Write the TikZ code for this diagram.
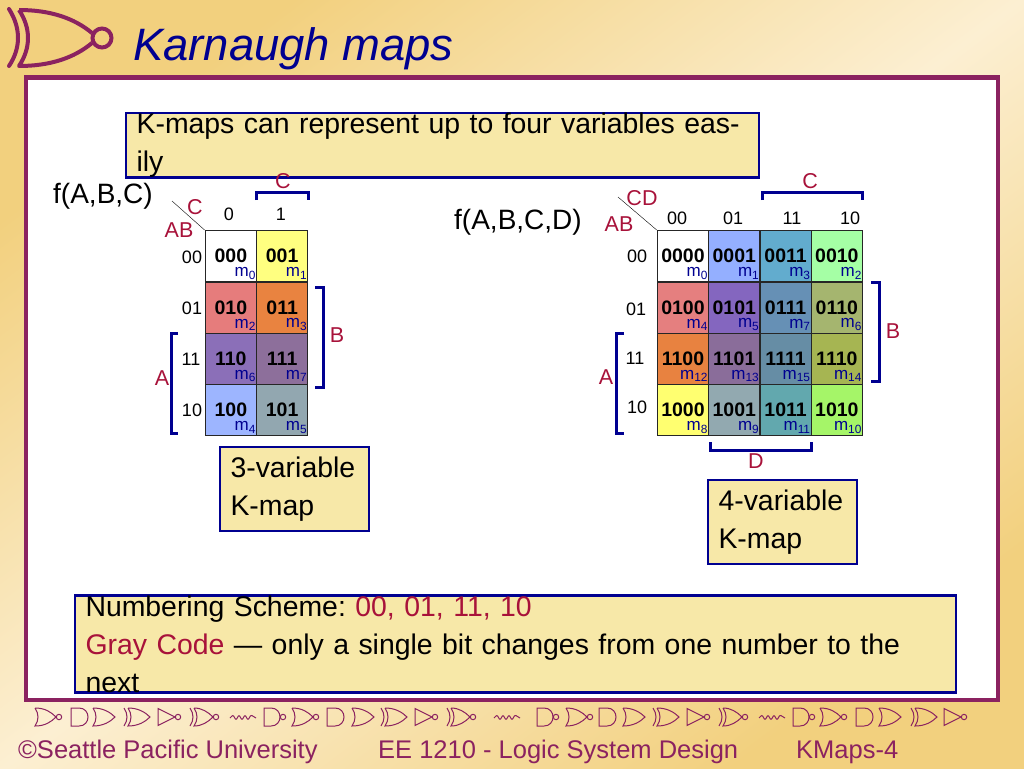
\documentclass[tikz,border=0pt]{standalone}
\usepackage{fontspec}
\setmainfont{Liberation Sans}
\definecolor{frame}{HTML}{8B2260}
\definecolor{navy}{HTML}{000090}
\definecolor{wine}{HTML}{A8123A}
\definecolor{note}{HTML}{F7E8A8}
\definecolor{tan}{HTML}{F2D07E}
\definecolor{pale}{HTML}{FCEFD2}
\newcommand{\fs}[1]{\fontsize{#1}{#1}\selectfont}
\tikzset{
    kcell/.style={draw=black!85,line width=1.2pt,minimum size=51.3pt,inner sep=0pt,anchor=north west,font=\fs{19.5}\bfseries},
    mterm/.style={inner sep=0pt,anchor=south east,text=navy,font=\fs{17}},
    varname/.style={inner sep=0pt,text=wine,font=\fs{21.5}},
    bitlabel/.style={inner sep=0pt,font=\fs{18}},
    brace/.style={draw=navy,line width=3pt},
    notebox/.style={draw=navy,line width=2.2pt,fill=note,inner xsep=10.5pt,inner ysep=0pt,align=left,font=\fontsize{28.4}{38}\selectfont\frenchspacing},
    footer/.style={inner sep=0pt,anchor=base west,text=frame,font=\fs{25.5}},
    gatepath/.style={draw=frame,line width=1pt},
    pics/nor/.style={code={\draw[gatepath] (0,-9) .. controls (4,-3) and (4,3) .. (0,9) .. controls (10,9) and (16,5) .. (21,0) .. controls (16,-5) and (10,-9) .. (0,-9);
        \draw[gatepath] (24,0) circle (2.7);}},
    pics/and/.style={code={\draw[gatepath] (0,-9) -- (8,-9) .. controls (20,-9) and (20,9) .. (8,9) -- (0,9) -- cycle;}},
    pics/or/.style={code={\draw[gatepath] (0,-9) .. controls (4,-3) and (4,3) .. (0,9) .. controls (10,9) and (17,5) .. (22,0) .. controls (17,-5) and (10,-9) .. (0,-9);}},
    pics/xor/.style={code={\draw[gatepath] (0,-9) .. controls (4,-3) and (4,3) .. (0,9);
        \draw[gatepath] (4,-9) .. controls (8,-3) and (8,3) .. (4,9) .. controls (14,9) and (21,5) .. (26,0) .. controls (21,-5) and (14,-9) .. (4,-9);}},
    pics/not/.style={code={\draw[gatepath] (0,-8.5) -- (17,0) -- (0,8.5) -- cycle;
        \draw[gatepath] (20,0) circle (2.7);}},
    pics/xnor/.style={code={\draw[gatepath] (0,-9) .. controls (4,-3) and (4,3) .. (0,9);
        \draw[gatepath] (4,-9) .. controls (8,-3) and (8,3) .. (4,9) .. controls (12,9) and (18,5) .. (23,0) .. controls (18,-5) and (12,-9) .. (4,-9);
        \draw[gatepath] (26,0) circle (2.7);}},
    pics/nand/.style={code={\draw[gatepath] (0,-9) -- (7,-9) .. controls (19,-9) and (19,9) .. (7,9) -- (0,9) -- cycle;
        \draw[gatepath] (19,0) circle (2.7);}},
    pics/res/.style={code={\draw[gatepath,rounded corners=1pt] (0,1) -- (3,-2) -- (6,3) -- (9,-2) -- (12,3) -- (15,-2) -- (18,3) -- (21,-2) -- (26,1);}},
}
\begin{document}
\begin{tikzpicture}[x=1pt,y=-1pt]
    \useasboundingbox (0,0) rectangle (1024,768);
    \shade[top color=tan,bottom color=tan,middle color=pale,shading angle=37] (0,0) rectangle (1024,768);
    \draw[frame,fill=white,line width=4.5pt] (26,77.5) rectangle (998,700);

    % logo
    \draw[frame,line width=4pt,line cap=round] (9,9) .. controls (21,28) and (21,48) .. (9,66);
    \draw[frame,line width=4pt,line join=round] (19,10) .. controls (31,28) and (31,48) .. (19,66) .. controls (50,66) and (74,58) .. (92,43) (92,33) .. controls (74,18) and (50,10) .. (19,10);
    \draw[frame,line width=4pt] (102,38) circle (9.5);
    \node[inner sep=0pt,anchor=base west,text=navy,font=\fs{45.4}\itshape] (title) at (133,60) {Karnaugh maps};

    \node[notebox,anchor=north west,minimum width=633pt,minimum height=47pt,text width=612pt] (intro) at (125,112) {K-maps can represent up to four variables easily};

    % 3-variable map
    \foreach \cid/\px/\py/\col/\bits/\mnum in {
        a0/204.6/230/FFFFFF/000/0, a1/255.9/230/FFFF80/001/1,
        a2/204.6/281.3/E67C7C/010/2, a3/255.9/281.3/E98340/011/3,
        a6/204.6/332.6/8B6FB8/110/6, a7/255.9/332.6/8D6F9B/111/7,
        a4/204.6/383.9/9DB5FF/100/4, a5/255.9/383.9/92A7B0/101/5} {
        \definecolor{cellfill}{HTML}{\col}
        \node[kcell,fill=cellfill] (\cid) at (\px,\py) {\bits};
        \node[mterm] (m\cid) at ([shift={(-1pt,3pt)}]\cid.south east) {m\textsubscript{\mnum}};
    }
    \node[inner sep=0pt,anchor=base west,font=\fs{28}] (fthree) at (53,203) {f(A,B,C)};
    \draw[black] (172,201) -- (a0.north west);
    \node[varname] (cthree) at (195,207) {C};
    \node[varname] (abthree) at (179,230) {AB};
    \foreach \nm/\px/\py/\txt in {t0/229/214/0,t1/281/214/1,r0/192/257/00,r1/192/308/01,r2/191/359/11,r3/192/410/10}
        \node[bitlabel] (\nm) at (\px,\py) {\txt};
    \draw[brace] (256,200) |- (308,192) -- (308,200);
    \node[varname] (ctop) at (283,181) {C};
    \draw[brace] (315,287) -| (323,387) -- (315,387);
    \node[varname] (bside) at (337,335) {B};
    \draw[brace] (178,333) -| (171,433) -- (178,433);
    \node[varname] (aside) at (162,378) {A};
    \node[notebox,minimum width=149pt,minimum height=84pt,text width=128pt] (kthree) at (294.5,489) {3-variable\\K-map};

    % 4-variable map
    \foreach \cid/\px/\py/\col/\bits/\mnum in {
        b0/656.7/230/FFFFFF/0000/0, b1/708/230/94AFFF/0001/1, b3/759.3/230/62ACCE/0011/3, b2/810.6/230/A5FFA5/0010/2,
        b4/656.7/281.3/E57F7F/0100/4, b5/708/281.3/8466BF/0101/5, b7/759.3/281.3/6690B5/0111/7, b6/810.6/281.3/A5B56F/0110/6,
        b12/656.7/332.6/E88240/1100/12, b13/708/332.6/8A6D9A/1101/13, b15/759.3/332.6/668DA5/1111/15, b14/810.6/332.6/A6B552/1110/14,
        b8/656.7/383.9/FFFF70/1000/8, b9/708/383.9/92A9B0/1001/9, b11/759.3/383.9/62A8AE/1011/11, b10/810.6/383.9/A5F568/1010/10} {
        \definecolor{cellfill}{HTML}{\col}
        \node[kcell,fill=cellfill] (\cid) at (\px,\py) {\bits};
        \node[mterm] (m\cid) at ([shift={(-1pt,3pt)}]\cid.south east) {m\textsubscript{\mnum}};
    }
    \node[inner sep=0pt,anchor=base west,font=\fs{28}] (ffour) at (454,229) {f(A,B,C,D)};
    \draw[black] (618,197) -- (b0.north west);
    \node[varname] (cdfour) at (642,198) {CD};
    \node[varname] (abfour) at (619,224) {AB};
    \foreach \nm/\px/\py/\txt in {s0/677/218/00,s1/733/218/01,s2/792/218/11,s3/850/218/10,q0/637/256/00,q1/636/309/01,q2/635/358/11,q3/637/407/10}
        \node[bitlabel] (\nm) at (\px,\py) {\txt};
    \draw[brace] (762,200) |- (862,192) -- (862,200);
    \node[varname] (ctopb) at (810,181) {C};
    \draw[brace] (871,282) -| (879,381) -- (871,381);
    \node[varname] (bsideb) at (893,331) {B};
    \draw[brace] (624,333) -| (616,433) -- (624,433);
    \node[varname] (asideb) at (606,377) {A};
    \draw[brace] (710,442) |- (811,450) -- (811,442);
    \node[varname] (dbot) at (756,461) {D};
    \node[notebox,minimum width=149pt,minimum height=84pt,text width=128pt] (kfour) at (782.5,522) {4-variable\\K-map};

    \node[notebox,minimum width=881pt,minimum height=88pt,text width=860pt] (scheme) at (515.5,644)
        {Numbering Scheme: \textcolor{wine}{00, 01, 11, 10}\\\textcolor{wine}{Gray Code} --- only a single bit changes from one number to the next};

    % footer
    \foreach \gate/\px in {nor/35,and/71,or/93,xor/124,not/158,xnor/190,res/230,nand/264,nor/292,and/327,or/352,xor/381,not/415,xnor/447,res/494,nand/537,nor/566,and/599,or/623,xor/653,not/687,xnor/719,res/759,nand/793,nor/820,and/856,or/879,xor/911,not/944}
        \pic at (\px,717) {\gate};
    \node[footer] (fone) at (18,758) {©Seattle Pacific University};
    \node[footer] (ftwo) at (378,758) {EE 1210 - Logic System Design};
    \node[footer] (fthr) at (796,758) {KMaps-4};
\end{tikzpicture}
\end{document}
